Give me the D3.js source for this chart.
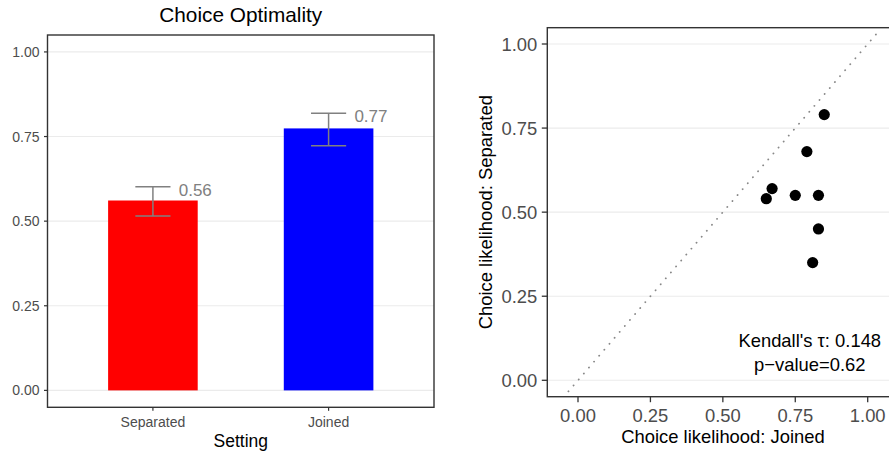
<!DOCTYPE html>
<html><head><meta charset="utf-8">
<script src="https://cdn.jsdelivr.net/npm/d3@7"></script>
<style>body{margin:0;background:#fff}svg{display:block;font-family:"Liberation Sans",Arial,sans-serif}</style>
</head><body>
<svg id="c" width="889" height="454"></svg>
<script>
// ---- data ----
const categories = ["Separated", "Joined"];
const means = [0.561, 0.774];
const lowers = [0.515, 0.723];
const uppers = [0.602, 0.819];
const labels = ["0.56", "0.77"];
const barColors = ["#FF0000", "#0000FF"];
const yTicksL = [0, 0.25, 0.5, 0.75, 1];
const yTickLabelsL = ["0.00", "0.25", "0.50", "0.75", "1.00"];

const joined =    [0.85, 0.79, 0.67, 0.65, 0.75, 0.83, 0.83, 0.81];
const separated = [0.79, 0.68, 0.57, 0.54, 0.55, 0.55, 0.45, 0.35];
const ticksR = [0, 0.25, 0.5, 0.75, 1];
const tickLabelsR = ["0.00", "0.25", "0.50", "0.75", "1.00"];
const diagRange = [-0.033, 1.033];
const annotation = ["Kendall's \u03c4: 0.148", "p\u2212value=0.62"];
const annotPos = [0.80, 0.10];

const svg = d3.select("#c");
const grid = "#EBEBEB", border = "#333333", tickTxt = "#4D4D4D", errCol = "#808080";

// ---- left panel ----
const L = {x0: 47.5, x1: 434, y0: 35, y1: 407.3};
const yL = d3.scaleLinear().domain([-0.05, 1.05]).range([L.y1, L.y0]);
const xL = d3.scalePoint().domain(categories).range([L.x0, L.x1]).padding(0.6);
const step = xL.step();
const gL = svg.append("g");
gL.selectAll("line.grid").data(yTicksL).join("line")
  .attr("x1", L.x0).attr("x2", L.x1).attr("y1", d => yL(d)).attr("y2", d => yL(d))
  .attr("stroke", grid).attr("stroke-width", 1.1);
const bw = 0.51 * step;
gL.selectAll("rect.bar").data(categories).join("rect")
  .attr("x", d => xL(d) - bw / 2).attr("width", bw)
  .attr("y", (d, i) => yL(means[i])).attr("height", (d, i) => yL(0) - yL(means[i]))
  .attr("fill", (d, i) => barColors[i]);
const ew = 0.2 * step;
categories.forEach((c, i) => {
  const cx = xL(c);
  gL.append("line").attr("x1", cx).attr("x2", cx).attr("y1", yL(lowers[i])).attr("y2", yL(uppers[i])).attr("stroke", errCol).attr("stroke-width", 1.5);
  [lowers[i], uppers[i]].forEach(v => gL.append("line").attr("x1", cx - ew / 2).attr("x2", cx + ew / 2).attr("y1", yL(v)).attr("y2", yL(v)).attr("stroke", errCol).attr("stroke-width", 1.5));
  gL.append("text").attr("x", cx + 0.147 * step).attr("y", yL(uppers[i]) + 9)
    .attr("font-size", 17).attr("fill", errCol).text(labels[i]);
});
gL.append("rect").attr("x", L.x0).attr("y", L.y0).attr("width", L.x1 - L.x0).attr("height", L.y1 - L.y0)
  .attr("fill", "none").attr("stroke", border).attr("stroke-width", 1.4);
// y axis
yTicksL.forEach((t, i) => {
  gL.append("line").attr("x1", L.x0 - 3.5).attr("x2", L.x0).attr("y1", yL(t)).attr("y2", yL(t)).attr("stroke", border).attr("stroke-width", 1.2);
  gL.append("text").attr("x", L.x0 - 8).attr("y", yL(t) + 5).attr("text-anchor", "end")
    .attr("font-size", 14).attr("fill", tickTxt).text(yTickLabelsL[i]);
});
categories.forEach(c => {
  gL.append("line").attr("x1", xL(c)).attr("x2", xL(c)).attr("y1", L.y1).attr("y2", L.y1 + 3.5).attr("stroke", border).attr("stroke-width", 1.2);
  gL.append("text").attr("x", xL(c)).attr("y", 426.5).attr("text-anchor", "middle")
    .attr("font-size", 14).attr("fill", tickTxt).text(c);
});
gL.append("text").attr("x", (L.x0 + L.x1) / 2).attr("y", 446.5).attr("text-anchor", "middle").attr("font-size", 17.5).attr("fill", "#000").text("Setting");
gL.append("text").attr("x", (L.x0 + L.x1) / 2).attr("y", 22.3).attr("text-anchor", "middle").attr("font-size", 20.8).attr("fill", "#000").text("Choice Optimality");

// ---- right panel ----
const xR = d3.scaleLinear().domain([0, 1]).range([578, 867.7]);
const yR = d3.scaleLinear().domain([0, 1]).range([380.3, 44]);
const R = {x0: xR(-0.106), x1: xR(1.106), y0: yR(1.0485), y1: yR(-0.0488)};
const gR = svg.append("g");
gR.selectAll("line.grid").data(ticksR).join("line")
  .attr("x1", R.x0).attr("x2", R.x1).attr("y1", d => yR(d)).attr("y2", d => yR(d))
  .attr("stroke", grid).attr("stroke-width", 1.1);
gR.append("line").attr("x1", xR(diagRange[0])).attr("y1", yR(diagRange[0]))
  .attr("x2", xR(diagRange[1])).attr("y2", yR(diagRange[1]))
  .attr("stroke", "#888").attr("stroke-width", 1.8).attr("stroke-linecap", "round")
  .attr("stroke-dasharray", "0.1,7.75");
gR.selectAll("circle").data(joined).join("circle")
  .attr("cx", d => xR(d)).attr("cy", (d, i) => yR(separated[i])).attr("r", 5.6).attr("fill", "#000");
annotation.forEach((t, i) => {
  gR.append("text").attr("x", xR(annotPos[0])).attr("y", yR(annotPos[1]) + i * 24)
    .attr("text-anchor", "middle").attr("font-size", 18.4).attr("fill", "#000").text(t);
});
gR.append("rect").attr("x", R.x0).attr("y", R.y0).attr("width", R.x1 - R.x0).attr("height", R.y1 - R.y0)
  .attr("fill", "none").attr("stroke", border).attr("stroke-width", 1.4);
ticksR.forEach((t, i) => {
  gR.append("line").attr("x1", R.x0 - 5.5).attr("x2", R.x0).attr("y1", yR(t)).attr("y2", yR(t)).attr("stroke", border).attr("stroke-width", 1.3);
  gR.append("text").attr("x", R.x0 - 10).attr("y", yR(t) + 6.6).attr("text-anchor", "end")
    .attr("font-size", 18.4).attr("fill", tickTxt).text(tickLabelsR[i]);
  gR.append("line").attr("x1", xR(t)).attr("x2", xR(t)).attr("y1", R.y1).attr("y2", R.y1 + 5.5).attr("stroke", border).attr("stroke-width", 1.3);
  gR.append("text").attr("x", xR(t)).attr("y", 421.5).attr("text-anchor", "middle")
    .attr("font-size", 18.4).attr("fill", tickTxt).text(tickLabelsR[i]);
});
gR.append("text").attr("x", 723).attr("y", 443).attr("text-anchor", "middle").attr("font-size", 18.4).attr("fill", "#000").text("Choice likelihood: Joined");
gR.append("text").attr("transform", "translate(491.6," + ((R.y0 + R.y1) / 2) + ") rotate(-90)")
  .attr("text-anchor", "middle").attr("font-size", 18.4).attr("fill", "#000").text("Choice likelihood: Separated");
</script>
</body></html>
